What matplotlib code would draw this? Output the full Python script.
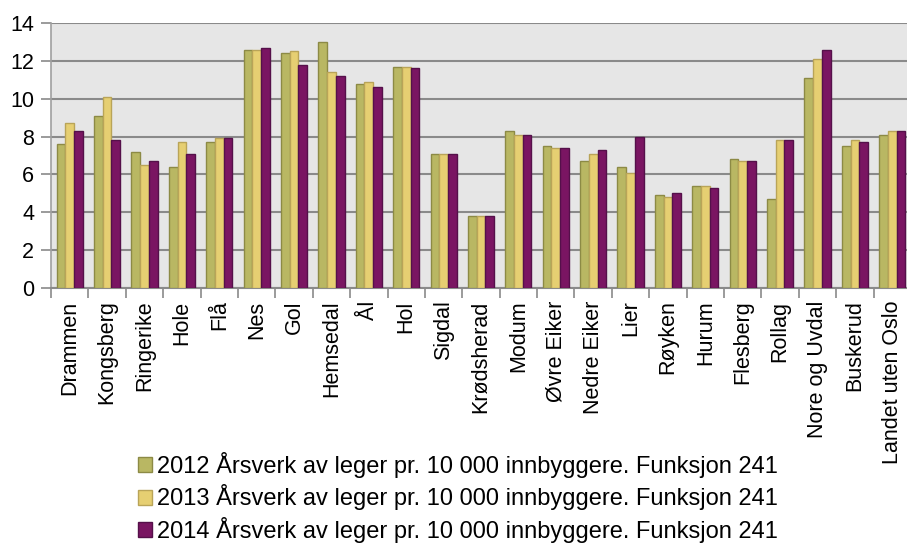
import numpy as np
import matplotlib
matplotlib.use('Agg')
import matplotlib.pyplot as plt
from matplotlib.patches import Patch

categories = ['Drammen', 'Kongsberg', 'Ringerike', 'Hole', 'Flå', 'Nes', 'Gol',
              'Hemsedal', 'Ål', 'Hol', 'Sigdal', 'Krødsherad', 'Modum',
              'Øvre Eiker', 'Nedre Eiker', 'Lier', 'Røyken', 'Hurum', 'Flesberg',
              'Rollag', 'Nore og Uvdal', 'Buskerud', 'Landet uten Oslo']
v2012 = [7.6, 9.1, 7.2, 6.4, 7.7, 12.6, 12.4, 13.0, 10.8, 11.7, 7.1, 3.8, 8.3,
         7.5, 6.7, 6.4, 4.9, 5.4, 6.8, 4.7, 11.1, 7.5, 8.1]
v2013 = [8.7, 10.1, 6.5, 7.7, 7.9, 12.6, 12.5, 11.4, 10.9, 11.7, 7.1, 3.8, 8.1,
         7.4, 7.1, 6.1, 4.8, 5.4, 6.7, 7.8, 12.1, 7.8, 8.3]
v2014 = [8.3, 7.8, 6.7, 7.1, 7.9, 12.7, 11.8, 11.2, 10.6, 11.6, 7.1, 3.8, 8.1,
         7.4, 7.3, 8.0, 5.0, 5.3, 6.7, 7.8, 12.6, 7.7, 8.3]
labels = ['2012 Årsverk av leger pr. 10 000 innbyggere. Funksjon 241',
          '2013 Årsverk av leger pr. 10 000 innbyggere. Funksjon 241',
          '2014 Årsverk av leger pr. 10 000 innbyggere. Funksjon 241']

fills = ['#b9b763', '#e6cf72', '#7a1562']
edges = ['#8c8a45', '#b9a458', '#55104a']

plt.rcParams['font.family'] = ['Liberation Sans', 'DejaVu Sans']

fig = plt.figure(figsize=(9.07, 5.45), dpi=100)
ax = fig.add_axes([51 / 907, 1 - 288 / 545, 860 / 907, 265 / 545])
ax.set_facecolor('#e6e6e6')

x = np.arange(len(categories))
w = 0.233
for i, vals in enumerate([v2012, v2013, v2014]):
    ax.bar(x + (i - 1) * w, vals, width=w, color=fills[i], edgecolor=edges[i],
           linewidth=1.0, label=labels[i], zorder=3)

ax.set_xlim(-0.5, len(categories) - 0.5)
ax.set_ylim(0, 14)
ax.set_yticks(range(0, 15, 2))
ax.grid(axis='y', color='#8a8a8a', linewidth=1.5, zorder=1)
ax.set_axisbelow(True)

ax.set_xticks(x)
ax.set_xticklabels(categories, rotation=90, fontsize=15.5, va='top')
ax.set_xticks(np.arange(-0.5, len(categories)), minor=True)
ax.tick_params(axis='x', which='major', length=0, pad=9)
ax.tick_params(axis='x', which='minor', length=7, color='#8a8a8a', width=1.2)
ax.tick_params(axis='y', length=7, color='#8a8a8a', width=1.2, labelsize=15.5, pad=5)

for s in ['top', 'right']:
    ax.spines[s].set_visible(False)
ax.spines['left'].set_color('#a0a0a0')
ax.spines['bottom'].set_color('#8a8a8a')
ax.spines['left'].set_linewidth(1.2)
ax.spines['bottom'].set_linewidth(1.5)

handles = [Patch(facecolor=fills[i], edgecolor=edges[i], linewidth=1.0) for i in range(3)]
fig.legend(handles, labels, loc='upper left', bbox_to_anchor=(138 / 907, 1 - 452 / 545),
           frameon=False, fontsize=17, handlelength=0.6, handleheight=0.6,
           handletextpad=0.2, labelspacing=0.27, borderpad=0, borderaxespad=0)

fig.savefig('out.png', dpi=100)
